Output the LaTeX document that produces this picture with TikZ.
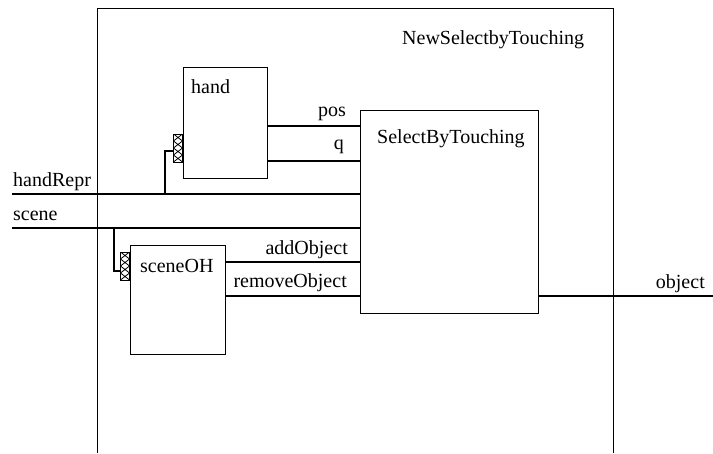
\documentclass[tikz,border=0pt]{standalone}
\usepackage{fontspec}
\setmainfont{Liberation Serif}
\usetikzlibrary{positioning, calc}
\tikzset{
  wire/.style={line width=1.2pt},
  frame/.style={line width=1pt},
  blk/.style={draw, line width=1pt, inner sep=0pt, anchor=north west},
  port/.style={draw, line width=1pt, inner sep=0pt, minimum width=9pt,
    minimum height=28pt, anchor=east,
    path picture={
      \foreach \a/\b in {0/0.25, 0.25/0.5, 0.5/0.75, 0.75/1}{
        \draw[line width=0.8pt]
          ($(path picture bounding box.north west)!\a!(path picture bounding box.south west)$) --
          ($(path picture bounding box.north east)!\b!(path picture bounding box.south east)$)
          ($(path picture bounding box.north east)!\a!(path picture bounding box.south east)$) --
          ($(path picture bounding box.north west)!\b!(path picture bounding box.south west)$);
      }}},
  lbl/.style={font=\fontsize{20}{24}\selectfont, inner sep=0pt},
}

\begin{document}
\begin{tikzpicture}[x=1pt, y=-1pt]
    \useasboundingbox (0,0) rectangle (713,453);
    % outer frame, open at the bottom
    \coordinate (fr-bl) at (97,453);
    \coordinate (fr-tl) at (97,8);
    \coordinate (fr-tr) at (613,8);
    \coordinate (fr-br) at (613,453);
    \draw[frame] (fr-bl) -- (fr-tl) -- (fr-tr) -- (fr-br);
    \node[lbl, anchor=base west] (title) at (402,44) {NewSelectbyTouching};
    % blocks
    \node[blk, minimum width=84pt, minimum height=111pt] (hand) at (183,67) {};
    \node[blk, minimum width=95pt, minimum height=109pt] (sceneoh) at (130,245) {};
    \node[blk, minimum width=178pt, minimum height=203pt] (sel) at (360,110) {};
    \node[lbl, anchor=base west] (handlbl) at ($(hand.north west)+(8,26)$) {hand};
    \node[lbl, anchor=base west] (scenelbl) at ($(sceneoh.north west)+(10,27)$) {sceneOH};
    \node[lbl, anchor=base west] (sellbl) at ($(sel.north west)+(17,33)$) {SelectByTouching};
    % ports
    \node[port] (hport) at ($(hand.north west)+(0,81)$) {};
    \node[port] (sport) at ($(sceneoh.north west)+(0,21)$) {};
    % pins on SelectByTouching
    \coordinate (sel-pos) at ($(sel.north west)+(0,16)$);
    \coordinate (sel-q) at ($(sel.north west)+(0,51)$);
    \coordinate (sel-hr) at ($(sel.north west)+(0,84)$);
    \coordinate (sel-sc) at ($(sel.north west)+(0,118)$);
    \coordinate (sel-add) at ($(sel.north west)+(0,152)$);
    \coordinate (sel-rem) at ($(sel.north west)+(0,186)$);
    \coordinate (sel-obj) at ($(sel.north east)+(0,186)$);
    % free ends and taps
    \coordinate (in-hand) at (12,194);
    \coordinate (in-scene) at (12,228);
    \coordinate (out-obj) at (713,296);
    \coordinate (htap) at (165,194);
    \coordinate (stap) at (114,228);
    \coordinate (hport-pin) at ($(hport.west)+(0,3)$);
    \coordinate (sport-pin) at ($(sport.west)+(0,5)$);
    % wires
    \draw[wire] (hand.east |- sel-pos) -- (sel-pos);
    \draw[wire] (hand.east |- sel-q) -- (sel-q);
    \draw[wire] (in-hand) -- (sel-hr);
    \draw[wire] (in-scene) -- (sel-sc);
    \draw[wire] (sceneoh.east |- sel-add) -- (sel-add);
    \draw[wire] (sceneoh.east |- sel-rem) -- (sel-rem);
    \draw[wire] (sel-obj) -- (out-obj);
    \draw[wire] (hport-pin) -| (htap);
    \draw[wire] (sport-pin) -| (stap);
    % wire labels
    \node[lbl, anchor=base east] (poslbl) at ($(sel-pos)+(-14,-10)$) {pos};
    \node[lbl, anchor=base east] (qlbl) at ($(sel-q)+(-16,-12)$) {q};
    \node[lbl, anchor=base west] (hrlbl) at ($(in-hand)+(1,-8)$) {handRepr};
    \node[lbl, anchor=base west] (sclbl) at ($(in-scene)+(1,-8)$) {scene};
    \node[lbl, anchor=base east] (addlbl) at ($(sel-add)+(-12,-8)$) {addObject};
    \node[lbl, anchor=base east] (remlbl) at ($(sel-rem)+(-13,-9)$) {removeObject};
    \node[lbl, anchor=base east] (objlbl) at ($(out-obj)+(-8,-8)$) {object};
\end{tikzpicture}
\end{document}
